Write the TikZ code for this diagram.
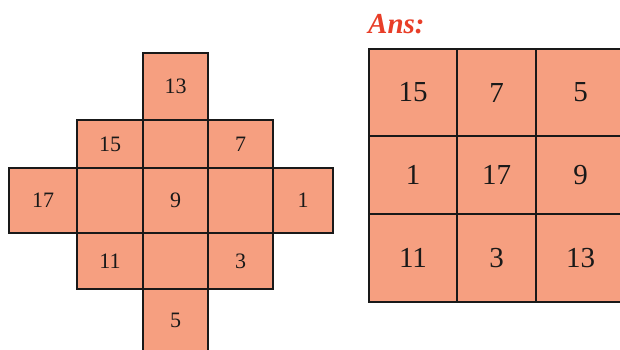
\documentclass[tikz,border=0pt]{standalone}
\usepackage{fontspec}
\setmainfont{Liberation Serif}
\usetikzlibrary{positioning}
\definecolor{cellfill}{RGB}{246,159,128}
\definecolor{ansred}{RGB}{232,62,40}

\begin{document}
\begin{tikzpicture}[x=1pt, y=-1pt,
  cell/.style  = {draw=black!90, fill=cellfill, line width=2.7pt, inner sep=0pt,
                  text=black!90},
  small/.style = {cell, font=\fontsize{22}{24}\selectfont},
  big/.style   = {cell, font=\fontsize{29}{32}\selectfont},
  ans/.style   = {font=\bfseries\itshape\fontsize{29}{32}\selectfont,
                  text=ansred, inner sep=0pt},
]
\clip (0,0) rectangle (620,349);

% --- puzzle --------------------------------------------------------------
\node[small, minimum width=65pt, minimum height=67pt] (l13) at (175.5,86.5) {13};

\node[small, minimum width=66pt, minimum height=48pt] (l15)  at (110,144)   {15};
\node[small, minimum width=65pt, minimum height=48pt] (l2b)  at (175.5,144) {};
\node[small, minimum width=65pt, minimum height=48pt] (l7)   at (240.5,144) {7};

\node[small, minimum width=68pt, minimum height=65pt] (l17)  at (43,200.5)    {17};
\node[small, minimum width=66pt, minimum height=65pt] (l3b)  at (110,200.5)   {};
\node[small, minimum width=65pt, minimum height=65pt] (l9)   at (175.5,200.5) {9};
\node[small, minimum width=65pt, minimum height=65pt] (l3d)  at (240.5,200.5) {};
\node[small, minimum width=60pt, minimum height=65pt] (l1)   at (303,200.5)   {1};

\node[small, minimum width=66pt, minimum height=56pt] (l11)  at (110,261)   {11};
\node[small, minimum width=65pt, minimum height=56pt] (l4b)  at (175.5,261) {};
\node[small, minimum width=65pt, minimum height=56pt] (l3)   at (240.5,261) {3};

\node[small, minimum width=65pt, minimum height=63pt] (l5)   at (175.5,320.5) {5};

% --- answer --------------------------------------------------------------
\node[ans, anchor=west] (ans) at (368,24) {Ans:};

\node[big, minimum width=88pt, minimum height=87pt] (r15) at (413,92.5)   {15};
\node[big, minimum width=79pt, minimum height=87pt] (r7)  at (496.5,92.5) {7};
\node[big, minimum width=89pt, minimum height=87pt] (r5)  at (580.5,92.5) {5};

\node[big, minimum width=88pt, minimum height=78pt] (r1)  at (413,175)   {1};
\node[big, minimum width=79pt, minimum height=78pt] (r17) at (496.5,175) {17};
\node[big, minimum width=89pt, minimum height=78pt] (r9)  at (580.5,175) {9};

\node[big, minimum width=88pt, minimum height=88pt] (r11) at (413,258)   {11};
\node[big, minimum width=79pt, minimum height=88pt] (r3)  at (496.5,258) {3};
\node[big, minimum width=89pt, minimum height=88pt] (r13) at (580.5,258) {13};

\end{tikzpicture}
\end{document}
